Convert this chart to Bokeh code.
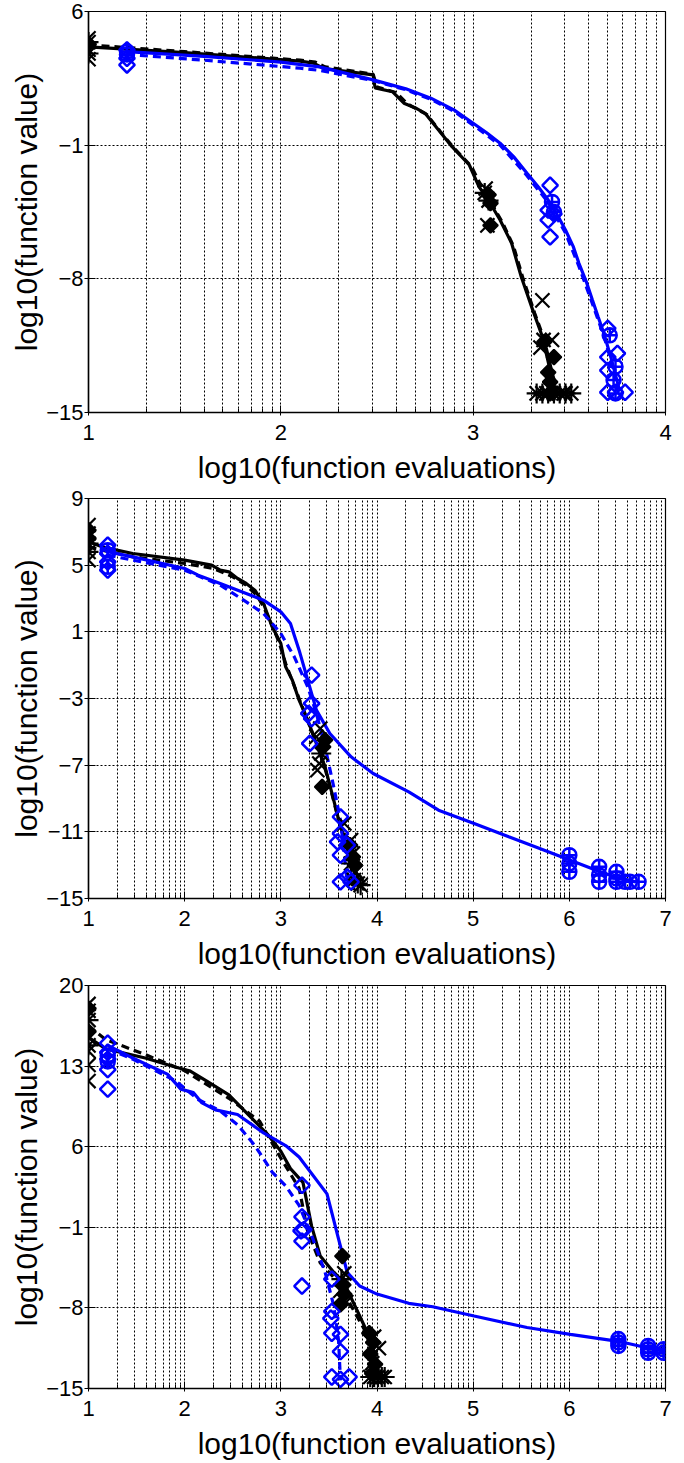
import math
from bokeh.plotting import figure
from bokeh.layouts import column
from bokeh.models import Range1d, FixedTicker
from bokeh.embed import file_html
from bokeh.resources import INLINE

# ---------------- Panel 1 ----------------
P1_XRANGE = (1, 4)
P1_YTICKS = [6, -1, -8, -15]
P1_BS_X = [1.0, 1.5, 2.1, 2.17, 2.22, 2.35, 2.48, 2.49, 2.58, 2.64, 2.70, 2.75, 2.82, 2.89, 2.98, 3.03, 3.08, 3.14, 3.20, 3.25, 3.31, 3.36, 3.40, 3.43]
P1_BS_Y = [4.15, 3.85, 3.40, 3.30, 3.03, 2.85, 2.68, 2.00, 1.80, 1.20, 0.95, 0.67, -0.20, -1.08, -2.04, -3.17, -3.9, -4.92, -6.14, -7.89, -9.64, -11.03, -12.78, -13.92]
P1_BD_X = [1.0, 1.5, 2.1, 2.18, 2.23, 2.48, 2.50, 2.60, 2.66, 2.76, 2.83, 2.90, 2.99, 3.05, 3.15, 3.21, 3.26, 3.32, 3.37, 3.41, 3.44]
P1_BD_Y = [4.25, 3.9, 3.45, 3.35, 3.1, 2.72, 2.05, 1.75, 1.15, 0.6, -0.3, -1.15, -2.1, -3.3, -5.0, -6.3, -8.0, -9.8, -11.2, -12.9, -13.95]
P1_US_X = [1.2, 1.6, 2.0, 2.2, 2.48, 2.65, 2.78, 2.9, 3.0, 3.07, 3.14, 3.21, 3.28, 3.34, 3.39, 3.44, 3.48, 3.52, 3.55, 3.59, 3.62, 3.65, 3.68, 3.72, 3.76]
P1_US_Y = [3.9, 3.65, 3.35, 3.1, 2.42, 1.95, 1.46, 0.85, 0.15, -0.35, -0.9, -1.6, -2.47, -3.2, -3.87, -4.7, -5.44, -6.3, -7.19, -8.2, -9.11, -10.0, -10.86, -12.26, -13.8]
P1_UD_X = [1.2, 1.6, 2.0, 2.1, 2.2, 2.48, 2.65, 2.78, 2.9, 3.0, 3.14, 3.28, 3.39, 3.48, 3.55, 3.62, 3.68, 3.72, 3.75]
P1_UD_Y = [3.75, 3.45, 3.12, 3.03, 2.92, 2.38, 1.9, 1.4, 0.78, 0.05, -1.0, -2.6, -4.0, -5.6, -7.35, -9.3, -11.0, -12.4, -13.9]
P1_BX_X = [1, 1, 1, 3.065, 3.074, 3.36, 3.366, 3.41, 3.35, 3.38, 3.47]
P1_BX_Y = [4.6, 3.5, 4.0, -3.27, -5.2, -9.13, -11.2, -11.2, -11.6, -14.0, -14.0]
P1_BDM_X = [1, 3.09, 3.09, 3.08, 3.42, 3.39, 3.40, 3.37, 3.40]
P1_BDM_Y = [4.3, -4.04, -5.2, -3.6, -12.1, -12.9, -13.4, -11.3, -14.0]
P1_BA_X = [1, 1, 3.06, 3.08, 3.33, 3.36, 3.39, 3.42, 3.45, 3.48, 3.51]
P1_BA_Y = [4.4, 3.8, -3.5, -3.9, -14.0, -14.0, -14.0, -14.0, -14.0, -14.0, -14.0]
P1_UDM_X = [1.2, 1.2, 1.2, 3.40, 3.39, 3.39, 3.42, 3.40, 3.70, 3.75, 3.70, 3.70, 3.70, 3.74, 3.79]
P1_UDM_Y = [3.99, 3.55, 3.2, -3.1, -4.4, -4.93, -4.6, -5.8, -10.6, -11.9, -12.1, -12.8, -13.94, -13.94, -13.94]
P1_UC_X = [1.2, 1.2, 3.41, 3.42, 3.71, 3.74, 3.73, 3.74]
P1_UC_Y = [3.9, 3.75, -3.97, -4.5, -10.96, -12.6, -13.3, -14.0]

# ---------------- Panel 2 ----------------
P2_XRANGE = (1, 7)
P2_YTICKS = [9, 5, 1, -3, -7, -11, -15]
P2_BS_X = [1.0, 1.14, 1.46, 2.0, 2.28, 2.37, 2.46, 2.55, 2.64, 2.73, 2.82, 2.91, 3.0, 3.05, 3.12, 3.19, 3.28, 3.37, 3.46, 3.55, 3.62, 3.69, 3.76, 3.82]
P2_BS_Y = [6.4, 6.1, 5.7, 5.3, 5.0, 4.7, 4.6, 4.2, 3.9, 3.5, 2.7, 1.3, 0.3, -1.1, -1.9, -3.1, -4.3, -5.7, -7.1, -9.1, -10.7, -11.9, -13.1, -14.0]
P2_BD_X = [1.0, 1.14, 1.46, 2.0, 2.3, 2.5, 2.64, 2.75, 2.82, 2.9, 2.98, 3.05, 3.15, 3.25, 3.35, 3.45, 3.53, 3.6, 3.68, 3.75, 3.8]
P2_BD_Y = [6.1, 5.9, 5.5, 5.1, 4.8, 4.3, 3.8, 3.2, 2.5, 1.5, 0.4, -0.9, -2.4, -3.9, -5.4, -7.0, -8.7, -10.3, -11.8, -13.2, -14.0]
P2_US_X = [1.21, 1.46, 2.0, 2.14, 2.37, 2.64, 2.82, 3.0, 3.1, 3.19, 3.28, 3.37, 3.51, 3.73, 3.96, 4.33, 4.64, 5.01, 5.37, 5.74, 6.01, 6.28, 6.47, 6.69]
P2_US_Y = [5.8, 5.5, 4.8, 4.4, 3.9, 3.3, 2.9, 2.2, 1.5, -0.1, -1.9, -3.7, -5.1, -6.5, -7.5, -8.6, -9.7, -10.5, -11.3, -12.1, -12.7, -13.3, -13.7, -14.0]
P2_UD_X = [1.2, 1.46, 2.0, 2.37, 2.64, 2.82, 3.0, 3.14, 3.28, 3.37, 3.46, 3.55, 3.62, 3.67, 3.69]
P2_UD_Y = [5.6, 5.3, 4.7, 3.8, 2.8, 2.1, 0.9, -0.5, -2.3, -3.9, -5.9, -8.3, -10.3, -12.9, -14.1]
P2_BX_X = [1, 1, 1, 3.41, 3.37, 3.40, 3.38, 3.66, 3.73, 3.75, 3.78]
P2_BX_Y = [7.4, 6.9, 5.3, -4.8, -5.3, -6.9, -7.3, -10.5, -11.5, -12.3, -13.4]
P2_BDM_X = [1, 1, 3.46, 3.44, 3.43, 3.75, 3.77, 3.72]
P2_BDM_Y = [7.1, 6.6, -5.5, -5.9, -8.3, -12.5, -13.0, -11.8]
P2_BA_X = [1, 1, 3.42, 3.76, 3.80, 3.83, 3.73]
P2_BA_Y = [6.3, 5.8, -6.3, -13.9, -14.1, -14.2, -12.9]
P2_UDM_X = [1.2, 1.2, 1.2, 1.2, 3.32, 3.32, 3.29, 3.32, 3.30, 3.62, 3.62, 3.59, 3.69, 3.62, 3.62, 3.69, 3.73]
P2_UDM_Y = [6.2, 5.7, 5.2, 4.7, -1.6, -3.3, -3.9, -4.2, -5.7, -10.1, -11.1, -11.6, -11.8, -12.4, -14.0, -13.7, -14.0]
P2_UC_X = [1.2, 1.2, 6.0, 6.0, 6.0, 6.31, 6.31, 6.31, 6.49, 6.49, 6.49, 6.58, 6.63, 6.72]
P2_UC_Y = [5.9, 4.9, -12.4, -12.9, -13.4, -13.1, -13.6, -14.0, -13.4, -13.8, -14.0, -14.0, -14.0, -14.0]

# ---------------- Panel 3 ----------------
P3_XRANGE = (1, 7)
P3_YTICKS = [20, 13, 6, -1, -8, -15]
P3_BS_X = [1.0, 1.18, 1.59, 1.91, 2.05, 2.23, 2.46, 2.59, 2.73, 2.87, 3.0, 3.10, 3.23, 3.32, 3.41, 3.55, 3.69, 3.82, 3.92, 3.98, 4.0]
P3_BS_Y = [15.5, 14.5, 13.7, 12.9, 12.6, 11.7, 10.5, 9.4, 8.2, 7.0, 5.6, 4.1, 2.9, -0.9, -3.5, -4.9, -6.4, -8.7, -10.5, -12.2, -14.1]
P3_BD_X = [1.0, 1.18, 1.59, 2.0, 2.46, 2.78, 3.0, 3.19, 3.28, 3.41, 3.6, 3.73, 3.87, 3.96, 4.0]
P3_BD_Y = [16.5, 15.3, 14.0, 12.6, 10.2, 8.2, 5.0, 2.4, -1.4, -4.1, -5.8, -7.8, -9.9, -11.9, -14.0]
P3_US_X = [1.2, 1.46, 1.82, 1.96, 2.09, 2.18, 2.32, 2.55, 2.82, 3.05, 3.19, 3.48, 3.6, 3.69, 3.82, 4.0, 4.33, 4.58, 5.01, 5.56, 6.01, 6.51, 6.83, 7.0]
P3_US_Y = [14.8, 13.7, 12.3, 11.0, 10.7, 9.8, 9.2, 8.8, 7.2, 6.1, 5.1, 1.9, -2.0, -4.9, -6.1, -6.8, -7.6, -7.9, -8.7, -9.7, -10.3, -10.9, -11.5, -11.8]
P3_UD_X = [1.2, 1.46, 1.91, 2.14, 2.37, 2.55, 2.73, 2.91, 3.05, 3.19, 3.32, 3.46, 3.55, 3.6, 3.62]
P3_UD_Y = [14.5, 13.6, 11.7, 10.1, 9.1, 7.9, 6.1, 3.8, 2.6, 0.9, -1.7, -4.9, -7.8, -10.8, -14.3]
P3_BX_X = [1, 1, 1, 1, 1, 1, 3.66, 3.62, 3.68, 3.97, 4.02, 3.95]
P3_BX_Y = [18.4, 17.8, 15.5, 14.3, 13.1, 11.7, -5.0, -6.5, -7.5, -10.5, -11.5, -12.8]
P3_BDM_X = [1, 1, 3.64, 3.65, 3.62, 3.66, 3.92, 3.96, 3.93, 3.98, 3.95]
P3_BDM_Y = [18.0, 16.0, -3.5, -6.0, -7.7, -6.8, -10.2, -11.0, -12.0, -12.9, -13.7]
P3_BA_X = [1, 1, 3.63, 3.93, 3.97, 4.01, 4.05, 4.08]
P3_BA_Y = [17.0, 14.8, -5.5, -14.0, -14.0, -14.0, -14.0, -14.0]
P3_UDM_X = [1.2, 1.2, 1.2, 1.2, 1.2, 3.22, 3.22, 3.21, 3.24, 3.22, 3.22, 3.53, 3.53, 3.52, 3.53, 3.62, 3.62, 3.53, 3.62, 3.71]
P3_UDM_Y = [15.0, 14.2, 13.6, 12.7, 11.0, 2.65, -0.1, -1.3, -1.2, -2.2, -6.1, -5.5, -8.3, -8.9, -10.2, -10.3, -11.8, -14.0, -14.2, -14.0]
P3_UC_X = [1.2, 1.2, 6.51, 6.51, 6.51, 6.82, 6.82, 6.82, 6.98, 6.98]
P3_UC_Y = [13.9, 13.4, -10.7, -11.0, -11.3, -11.3, -11.6, -11.9, -11.6, -11.9]

X_LABEL = "log10(function evaluations)"
Y_LABEL = "log10(function value)"
BLUE = "#0000ff"
BLACK = "#000000"
FONT = "Liberation Sans"


def fmt(t):
    return ("\u2212" + str(abs(t))) if t < 0 else str(t)


def build(xr, yticks, bs, bd, us, ud, bx, bdm, ba, udm, uc, height, top):
    p = figure(width=684, height=height, output_backend="svg", toolbar_location=None,
               x_range=Range1d(*xr), y_range=Range1d(min(yticks), max(yticks)),
               min_border_left=88, min_border_right=19, min_border_top=top, min_border_bottom=10)
    p.background_fill_color = "white"
    p.outline_line_color = BLACK
    p.outline_line_width = 1.2
    majors = list(range(xr[0], xr[1] + 1))
    minors = [d + math.log10(k) for d in range(xr[0], xr[1]) for k in range(2, 10)]
    p.xaxis.ticker = FixedTicker(ticks=majors, minor_ticks=minors)
    p.yaxis.ticker = FixedTicker(ticks=yticks)
    p.yaxis.major_label_overrides = {t: fmt(t) for t in yticks}
    p.xaxis.major_label_overrides = {t: str(t) for t in majors}
    for ax in (p.xaxis[0], p.yaxis[0]):
        ax.axis_line_color = BLACK
        ax.axis_line_width = 1.5
        ax.major_tick_line_color = BLACK
        ax.minor_tick_line_color = BLACK
        ax.major_label_text_font = FONT
        ax.major_label_text_font_size = "22px"
        ax.major_label_text_color = BLACK
        ax.axis_label_text_font = FONT
        ax.axis_label_text_font_size = "30px"
        ax.axis_label_text_font_style = "normal"
        ax.axis_label_text_color = BLACK
    p.xaxis.major_tick_in = 7
    p.xaxis.major_tick_out = 3
    p.xaxis.minor_tick_in = 4
    p.xaxis.minor_tick_out = 0
    p.xaxis.major_label_standoff = 9
    p.xaxis.axis_label_standoff = 8
    p.yaxis.major_tick_in = 7
    p.yaxis.major_tick_out = 4
    p.yaxis.minor_tick_in = 0
    p.yaxis.minor_tick_out = 0
    p.yaxis.major_label_standoff = 1
    p.yaxis.axis_label_standoff = 0
    p.xaxis.axis_label = X_LABEL
    p.yaxis.axis_label = Y_LABEL
    for g in (p.xgrid[0], p.ygrid[0]):
        g.grid_line_color = BLACK
        g.grid_line_dash = "2 2"
        g.grid_line_width = 1
    p.xgrid.minor_grid_line_color = BLACK
    p.xgrid.minor_grid_line_dash = "2 2"
    p.xgrid.minor_grid_line_width = 1

    p.line(bs[0], bs[1], line_color=BLACK, line_width=3.2)
    p.line(bd[0], bd[1], line_color=BLACK, line_width=3.2, line_dash="8 5")
    p.line(us[0], us[1], line_color=BLUE, line_width=3.2)
    p.line(ud[0], ud[1], line_color=BLUE, line_width=3.2, line_dash="8 5")
    p.scatter(bx[0], bx[1], marker="x", size=20, line_color=BLACK, line_width=2.2)
    p.scatter(bdm[0], bdm[1], marker="square", angle=math.pi / 4, size=10.5,
              line_color=BLACK, fill_color=BLACK, line_width=2)
    p.scatter(ba[0], ba[1], marker="asterisk", size=20, line_color=BLACK, line_width=2.2)
    p.scatter(udm[0], udm[1], marker="square", angle=math.pi / 4, size=11,
              line_color=BLUE, fill_color=None, line_width=2.5)
    p.scatter(uc[0], uc[1], marker="circle_cross", size=14, line_color=BLUE, fill_color=None, line_width=2.5)
    return p


p1 = build(P1_XRANGE, P1_YTICKS, (P1_BS_X, P1_BS_Y), (P1_BD_X, P1_BD_Y), (P1_US_X, P1_US_Y),
           (P1_UD_X, P1_UD_Y), (P1_BX_X, P1_BX_Y), (P1_BDM_X, P1_BDM_Y), (P1_BA_X, P1_BA_Y),
           (P1_UDM_X, P1_UDM_Y), (P1_UC_X, P1_UC_Y), 486, 11)
p2 = build(P2_XRANGE, P2_YTICKS, (P2_BS_X, P2_BS_Y), (P2_BD_X, P2_BD_Y), (P2_US_X, P2_US_Y),
           (P2_UD_X, P2_UD_Y), (P2_BX_X, P2_BX_Y), (P2_BDM_X, P2_BDM_Y), (P2_BA_X, P2_BA_Y),
           (P2_UDM_X, P2_UDM_Y), (P2_UC_X, P2_UC_Y), 486, 12)
p3 = build(P3_XRANGE, P3_YTICKS, (P3_BS_X, P3_BS_Y), (P3_BD_X, P3_BD_Y), (P3_US_X, P3_US_Y),
           (P3_UD_X, P3_UD_Y), (P3_BX_X, P3_BX_Y), (P3_BDM_X, P3_BDM_Y), (P3_BA_X, P3_BA_Y),
           (P3_UDM_X, P3_UDM_Y), (P3_UC_X, P3_UC_Y), 490, 13)

layout = column(p1, p2, p3, spacing=0)
open("out.html", "w").write(file_html(layout, INLINE))
